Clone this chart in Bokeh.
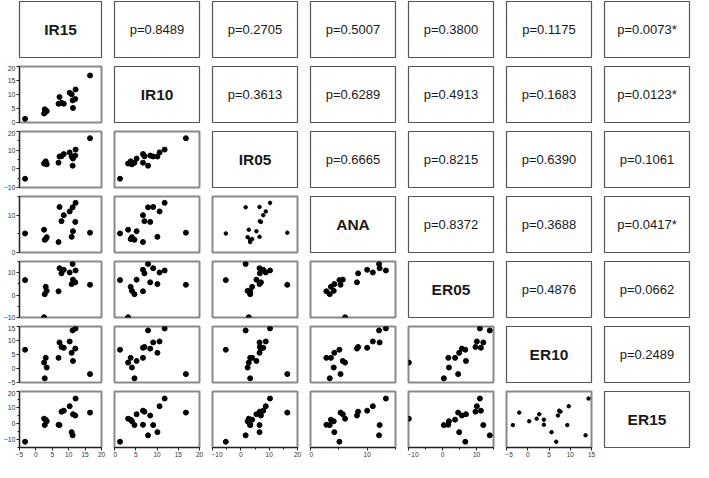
from bokeh.plotting import figure
from bokeh.layouts import gridplot
from bokeh.models import Range1d, FixedTicker, ColumnDataSource
from bokeh.embed import file_html
from bokeh.resources import INLINE
from bokeh.core.properties import value

variables = ["IR15", "IR10", "IR05", "ANA", "ER05", "ER10", "ER15"]

IR15 = [-3.3, 2.5, 2.7, 3.0, 3.3, 6.9, 7.2, 7.8, 8.5, 10.3, 10.9, 11.2, 11.3, 12.0, 12.1, 16.5]
IR10 = [1.3, 3.2, 4.7, 3.8, 4.1, 6.7, 9.1, 7.05, 6.7, 10.6, 10.1, 7.9, 5.2, 8.4, 11.8, 16.8]
IR05 = [-5.3, 2.8, 3.3, 4.0, 2.4, 3.3, 6.6, 6.7, 7.9, 8.8, 6.6, 1.7, 5.5, 7.1, 10.3, 16.4]
ANA = [5.1, 6.1, 3.4, 3.6, 4.1, 2.8, 12.2, 8.4, 10.0, 11.0, 4.2, 12.1, 5.7, 8.2, 13.3, 5.3]
ER05 = [6.7, -9.9, 0.4, 3.7, 1.9, 1.7, 12.0, 9.7, 11.3, 10.1, 4.9, 13.9, 6.9, 5.7, 11.0, 4.6]
ER10 = [6.7, 2.1, -3.5, 3.8, 0.35, 3.8, 9.3, 7.7, 7.4, 9.65, 5.6, 13.6, 2.7, 7.1, 14.3, -2.0]
ER15 = [-11.4, 3.0, -1.0, 2.4, 1.4, -0.8, -1.0, 7.4, 8.0, 10.8, -5.4, -7.4, 5.8, 5.0, 15.6, 6.8]

# p-values, upper triangle, row by row
p_row0 = ["p=0.8489", "p=0.2705", "p=0.5007", "p=0.3800", "p=0.1175", "p=0.0073*"]
p_row1 = ["p=0.3613", "p=0.6289", "p=0.4913", "p=0.1683", "p=0.0123*"]
p_row2 = ["p=0.6665", "p=0.8215", "p=0.6390", "p=0.1061"]
p_row3 = ["p=0.8372", "p=0.3688", "p=0.0417*"]
p_row4 = ["p=0.4876", "p=0.0662"]
p_row5 = ["p=0.2489"]
p_values = [p_row0, p_row1, p_row2, p_row3, p_row4, p_row5]

axis_ranges = {
    "IR15": (-5, 20), "IR10": (0, 20), "IR05": (-10, 20), "ANA": (0, 15),
    "ER05": (-10, 15), "ER10": (-5, 15), "ER15": (-15, 20),
}
y_major = {
    "IR10": [0, 5, 10, 15, 20], "IR05": [-10, 0, 10, 20], "ANA": [0, 10],
    "ER05": [-10, 0, 10], "ER10": [-5, 0, 5, 10, 15], "ER15": [-10, 0, 10, 20],
}
y_minor = {
    "IR10": [], "IR05": [-5, 5, 15], "ANA": [5, 15],
    "ER05": [-5, 5, 15], "ER10": [], "ER15": [-15, -5, 5, 15],
}
x_major = {
    "IR15": [-5, 0, 5, 10, 15, 20], "IR10": [0, 5, 10, 15, 20], "IR05": [-10, 0, 10, 20],
    "ANA": [0, 10], "ER05": [-10, 0, 10], "ER10": [-5, 0, 5, 10, 15],
}
x_minor = {
    "IR15": [], "IR10": [], "IR05": [-5, 5, 15], "ANA": [5, 15],
    "ER05": [-5, 5, 15], "ER10": [],
}

src = ColumnDataSource(dict(IR15=IR15, IR10=IR10, IR05=IR05, ANA=ANA,
                            ER05=ER05, ER10=ER10, ER15=ER15))

N = 7
LEFT0 = 16
W = 85
GAP_X = 12
H = 56
GAP_Y = 8
FONT = "Liberation Sans"
small_dot_panels = {(3, 2), (6, 5)}


def style_axis(ax):
    ax.major_label_text_font = FONT
    ax.major_label_text_font_size = "7px"
    ax.major_label_text_color = "#333333"
    ax.major_label_standoff = 1
    ax.major_tick_out = 3
    ax.major_tick_in = 0
    ax.minor_tick_out = 2
    ax.minor_tick_in = 0
    ax.axis_line_color = "#222222"
    ax.major_tick_line_color = "#222222"
    ax.minor_tick_line_color = "#222222"


rows = []
for i in range(N):
    row = []
    for j in range(N):
        left = LEFT0 if j == 0 else 1
        right = 2 if j == N - 1 else GAP_X
        top = 1
        bottom = 13 if i == N - 1 else GAP_Y
        width = left + W + right
        height = top + H + bottom
        common = dict(width=width, height=height, toolbar_location=None,
                      output_backend="svg", min_border_left=left,
                      min_border_right=right, min_border_top=top,
                      min_border_bottom=bottom)
        if i > j:
            xv, yv = variables[j], variables[i]
            p = figure(x_range=Range1d(*axis_ranges[xv]),
                       y_range=Range1d(*axis_ranges[yv]),
                       x_axis_location="below" if i == N - 1 else None,
                       y_axis_location="left" if j == 0 else None,
                       **common)
            p.outline_line_color = "#8a8a8a"
            p.outline_line_width = 2
            size = 3.5 if (i, j) in small_dot_panels else 5
            p.scatter(xv, yv, source=src, size=size, color="black")
            if i == N - 1:
                ax = p.xaxis[0]
                ax.ticker = FixedTicker(ticks=x_major[xv], minor_ticks=x_minor[xv])
                style_axis(ax)
                ax.major_label_text_font_size = "6.5px"
            if j == 0:
                ax = p.yaxis[0]
                ax.ticker = FixedTicker(ticks=y_major[yv], minor_ticks=y_minor[yv])
                style_axis(ax)
        else:
            p = figure(x_range=Range1d(0, 1), y_range=Range1d(0, 1),
                       x_axis_location=None, y_axis_location=None, **common)
            p.outline_line_color = "#555555"
            p.outline_line_width = 1.2
            if i == j:
                label = variables[i]
                p.text(x=[0.5], y=[0.5], text=[label], text_align="center",
                       text_baseline="middle", text_font=value(FONT),
                       text_font_size="15.5px", text_font_style="bold",
                       text_color="#1a1a1a")
            else:
                label = p_values[i][j - i - 1]
                p.text(x=[0.5], y=[0.5], text=[label], text_align="center",
                       text_baseline="middle", text_font=value(FONT),
                       text_font_size="13px", text_color="#1a1a1a")
        p.grid.visible = False
        p.background_fill_color = "white"
        p.border_fill_color = "white"
        row.append(p)
    rows.append(row)

grid = gridplot(rows, toolbar_location=None)

with open("out.html", "w") as f:
    f.write(file_html(grid, INLINE))
